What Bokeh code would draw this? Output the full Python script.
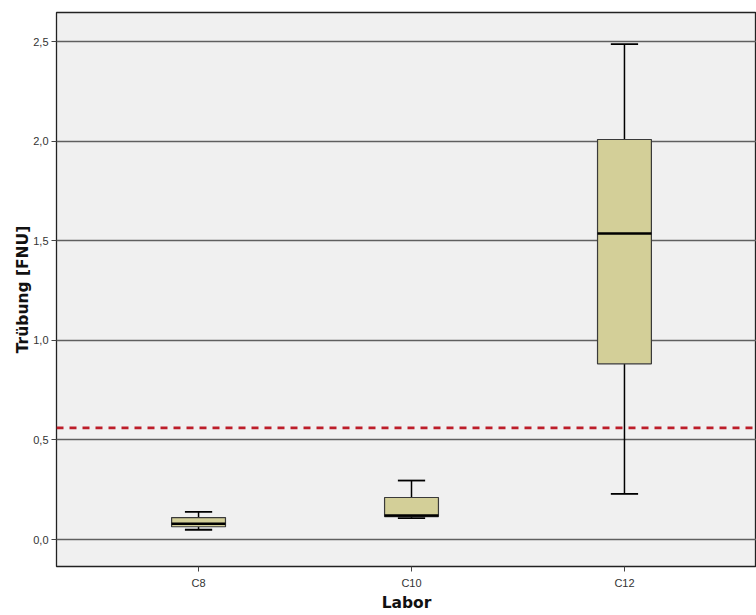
from bokeh.plotting import figure
from bokeh.models import Range1d, Span, FixedTicker, CustomJSTickFormatter
from bokeh.embed import file_html
from bokeh.resources import INLINE

# Data
labs = ["C8", "C10", "C12"]
whisker_low = [0.049, 0.107, 0.229]
q1 = [0.064, 0.115, 0.882]
median = [0.079, 0.120, 1.536]
q3 = [0.110, 0.211, 2.008]
whisker_high = [0.139, 0.296, 2.487]
ref_value = 0.56
y_ticks = [0.0, 0.5, 1.0, 1.5, 2.0, 2.5]

xs = list(range(len(labs)))
box_w = 0.253
cap_w = 0.128

p = figure(width=756, height=615, output_backend="svg", toolbar_location=None,
           x_range=Range1d(-0.667, 2.62), y_range=Range1d(-0.1355, 2.6456),
           min_border_left=56, min_border_right=0, min_border_top=12, min_border_bottom=49)

p.background_fill_color = "#f0f0f0"
p.border_fill_color = "white"
p.outline_line_color = "#222222"
p.outline_line_width = 1.3

p.xgrid.visible = False
p.ygrid.ticker = FixedTicker(ticks=y_ticks)
p.ygrid.grid_line_color = "#5f5f5f"
p.ygrid.grid_line_width = 1.4

# reference line
p.add_layout(Span(location=ref_value, dimension="width", line_color="#bd1e2a",
                  line_width=2.8, line_dash="7 6"))

# whiskers
p.segment(x0=xs, y0=whisker_low, x1=xs, y1=q1, line_color="black", line_width=1.5)
p.segment(x0=xs, y0=q3, x1=xs, y1=whisker_high, line_color="black", line_width=1.5)
p.segment(x0=[x - cap_w / 2 for x in xs], y0=whisker_low,
          x1=[x + cap_w / 2 for x in xs], y1=whisker_low, line_color="black", line_width=1.8)
p.segment(x0=[x - cap_w / 2 for x in xs], y0=whisker_high,
          x1=[x + cap_w / 2 for x in xs], y1=whisker_high, line_color="black", line_width=1.8)
# boxes
p.vbar(x=xs, width=box_w, bottom=q1, top=q3, fill_color="#d3cf98",
       line_color="#3a3a3a", line_width=1.2)
# medians
p.segment(x0=[x - box_w / 2 for x in xs], y0=median,
          x1=[x + box_w / 2 for x in xs], y1=median, line_color="black", line_width=2.5)

# axes
p.yaxis.ticker = FixedTicker(ticks=y_ticks)
p.yaxis.formatter = CustomJSTickFormatter(code="return tick.toFixed(1).replace('.', ',');")
p.yaxis.minor_tick_line_color = None
p.yaxis.major_tick_out = 5
p.yaxis.major_tick_in = 0
p.yaxis.major_tick_line_color = "#444444"
p.yaxis.major_label_standoff = 3
p.yaxis.major_label_text_font = "Liberation Sans"
p.yaxis.major_label_text_font_size = "11px"
p.yaxis.major_label_text_color = "#333333"
p.yaxis.axis_line_color = None
p.yaxis.axis_label = "Trübung [FNU]"
p.yaxis.axis_label_text_font = "DejaVu Sans"
p.yaxis.axis_label_text_font_style = "bold"
p.yaxis.axis_label_text_font_size = "15.5px"
p.yaxis.axis_label_text_color = "#111111"
p.yaxis.axis_label_standoff = -2

p.xaxis.ticker = FixedTicker(ticks=xs)
p.xaxis.major_label_overrides = {x: l for x, l in zip(xs, labs)}
p.xaxis.minor_tick_line_color = None
p.xaxis.major_tick_out = 5
p.xaxis.major_tick_in = 0
p.xaxis.major_tick_line_color = "#444444"
p.xaxis.major_label_standoff = 5
p.xaxis.major_label_text_font = "Liberation Sans"
p.xaxis.major_label_text_font_size = "11px"
p.xaxis.major_label_text_color = "#333333"
p.xaxis.axis_line_color = None
p.xaxis.axis_label = "Labor"
p.xaxis.axis_label_text_font = "DejaVu Sans"
p.xaxis.axis_label_text_font_style = "bold"
p.xaxis.axis_label_text_font_size = "15.5px"
p.xaxis.axis_label_text_color = "#111111"
p.xaxis.axis_label_standoff = 2

open("out.html", "w").write(file_html(p, INLINE))
